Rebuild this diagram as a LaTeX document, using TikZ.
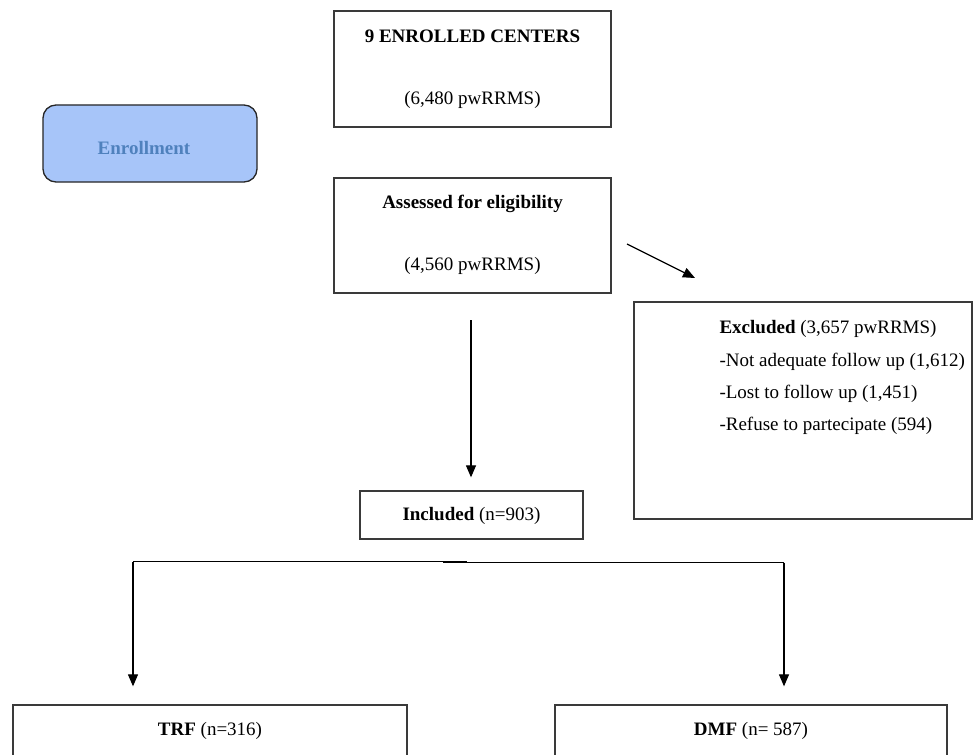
\documentclass[tikz,border=0pt]{standalone}
\usepackage{fontspec}
\setmainfont{Liberation Serif}
\usetikzlibrary{arrows.meta}
\definecolor{enrfill}{HTML}{A7C5F9}
\definecolor{enrtext}{HTML}{4F81BD}
\definecolor{boxline}{HTML}{3A3A3A}
\tikzset{
  box/.style={draw=boxline, line width=1.3pt, fill=white, inner sep=0pt},
  enrbox/.style={draw=black!85, line width=1.3pt, fill=enrfill, rounded corners=13pt, inner sep=0pt},
  txt/.style={inner sep=0pt, font=\fontsize{19}{22}\selectfont},
  conn/.style={draw=black, line width=1.2pt},
  arr/.style={conn, -{Triangle[length=12pt,width=10pt]}}
}
\begin{document}
\begin{tikzpicture}[x=1pt,y=-1pt]
\useasboundingbox[fill=white] (0,0) rectangle (973,754);
% boxes
\node[enrbox, minimum width=214pt, minimum height=77pt] (enr) at (150,143.5) {};
\node[box, minimum width=277pt, minimum height=116pt] (top) at (472.5,69) {};
\node[box, minimum width=277pt, minimum height=115pt] (assess) at (472.5,235.5) {};
\node[box, minimum width=338pt, minimum height=217pt] (excl) at (803,410.5) {};
\node[box, minimum width=223pt, minimum height=48pt] (incl) at (471.5,515) {};
\node[box, minimum width=394pt, minimum height=100pt] (trf) at (210,755) {};
\node[box, minimum width=392pt, minimum height=100pt] (dmf) at (751,755) {};
% texts
\node[txt, text=enrtext] (enrt) at ([xshift=-6pt,yshift=-5pt]enr.center) {\textbf{Enrollment}};
\node[txt, anchor=base] (topa) at ([yshift=-32pt]top.north) {\textbf{9 ENROLLED CENTERS}};
\node[txt, anchor=base] (topb) at ([yshift=-94pt]top.north) {(6,480 pwRRMS)};
\node[txt, anchor=base] (asa) at ([yshift=-31pt]assess.north) {\textbf{Assessed for eligibility}};
\node[txt, anchor=base] (asb) at ([yshift=-93pt]assess.north) {(4,560 pwRRMS)};
\node[txt, anchor=base west] (exa) at ([xshift=86pt,yshift=-32pt]excl.north west) {\textbf{Excluded} (3,657 pwRRMS)};
\node[txt, anchor=base west] (exb) at ([xshift=86pt,yshift=-65pt]excl.north west) {-Not adequate follow up (1,612)};
\node[txt, anchor=base west] (exc) at ([xshift=86pt,yshift=-97pt]excl.north west) {-Lost to follow up (1,451)};
\node[txt, anchor=base west] (exd) at ([xshift=86pt,yshift=-129pt]excl.north west) {-Refuse to partecipate (594)};
\node[txt] (inct) at ([yshift=-1pt]incl.center) {\textbf{Included} (n=903)};
\node[txt, anchor=base] (trft) at ([yshift=-31pt]trf.north) {\textbf{TRF} (n=316)};
\node[txt, anchor=base] (dmft) at ([yshift=-31pt]dmf.north) {\textbf{DMF} (n= 587)};
% connectors
\coordinate (d1) at (627,244);
\coordinate (d2) at (695,278);
\draw[arr] (d1) -- (d2);
\coordinate (v1) at (471,320);
\draw[arr, shorten >=13pt] (v1) -- (v1 |- incl.north);
\coordinate (jl) at (133,561.5);
\coordinate (jr) at (784,562.5);
\coordinate (jm1) at (467,561.5);
\coordinate (jm2) at (443,562.5);
\draw[conn] (jl) -- (jm1);
\draw[conn] (jm2) -- (jr);
\draw[conn, line width=2.4pt] (443,562) -- (467,562);
\draw[arr, shorten >=18pt] (jl) -- (jl |- trf.north);
\draw[arr, shorten >=18pt] (jr) -- (jr |- dmf.north);
\end{tikzpicture}
\end{document}
